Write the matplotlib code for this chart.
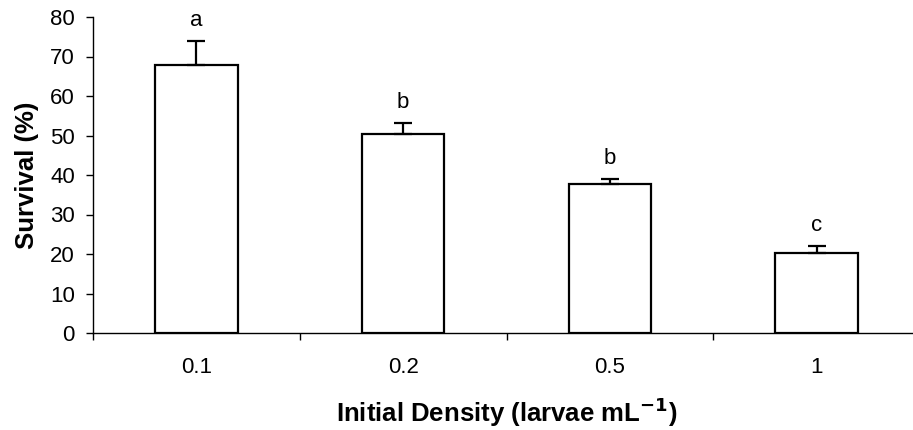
import numpy as np
import matplotlib
matplotlib.use('Agg')
import matplotlib.pyplot as plt

plt.rcParams['font.family'] = ['Liberation Sans', 'DejaVu Sans']

densities = ['0.1', '0.2', '0.5', '1']
survival = [67.8, 50.4, 37.6, 20.2]
se = [6.0, 2.7, 1.4, 1.8]
groups = ['a', 'b', 'b', 'c']

fig = plt.figure(figsize=(9.13, 4.30), dpi=100)
ax = fig.add_axes([93 / 913, 97 / 430, 827 / 913, 316 / 430])

x = np.arange(len(densities))
ax.bar(x, survival, width=0.40, color='white', edgecolor='black', linewidth=1.6, zorder=2)
ax.errorbar(x, survival, yerr=[np.zeros(len(se)), se], fmt='none', ecolor='black',
            elinewidth=1.6, capsize=6.5, capthick=1.6, zorder=3)

for xi, m, e, g in zip(x, survival, se, groups):
    ax.annotate(g, (xi, m + e), xytext=(0, 15), textcoords='offset points',
                ha='center', va='center', fontsize=16)

ax.set_xlim(-0.5, 3.5)
ax.set_ylim(0, 80)
ax.set_yticks(range(0, 81, 10))
ax.tick_params(axis='y', direction='out', length=5, width=1, pad=8, labelsize=16)

# ticks between categories, labels centred under the bars
ax.set_xticks(np.arange(-0.5, 4, 1.0))
ax.set_xticklabels([])
ax.set_xticks(x, minor=True)
ax.set_xticklabels(densities, minor=True)
ax.tick_params(axis='x', which='major', direction='out', length=5, width=1)
ax.tick_params(axis='x', which='minor', length=0, pad=17, labelsize=16)

for side in ['top', 'right']:
    ax.spines[side].set_visible(False)
ax.spines['left'].set_linewidth(1)
ax.spines['bottom'].set_linewidth(1)

ax.set_ylabel('Survival (%)', fontsize=18.5, fontweight='bold', labelpad=8)
ax.set_xlabel('Initial Density (larvae mL$^{\\mathbf{-1}}$)', fontsize=18.5, fontweight='bold',
              labelpad=13)

fig.savefig('out.png', dpi=100)
